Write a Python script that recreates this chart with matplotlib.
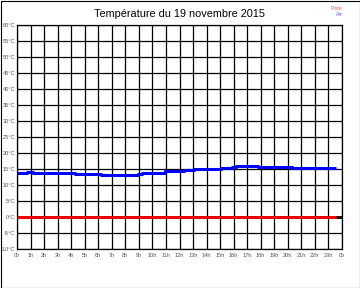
import matplotlib
matplotlib.use("Agg")
import matplotlib.pyplot as plt
from matplotlib.patches import Rectangle

title = "Température du 19 novembre 2015"
hour_labels = [f"{h}h" for h in range(24)] + ["0h"]
y_ticks = list(range(-10, 61, 5))

# Air temperature: step start times (hours) and values (°C)
air_times = [0.0, 0.74, 1.2, 4.3, 5.7, 6.2, 8.9, 9.2, 10.9, 12.3, 13.1,
             15.1, 15.9, 16.2, 17.8, 20.3, 23.55]
air_values = [13.9, 14.2, 13.8, 13.5, 13.3, 13.0, 13.4, 13.9, 14.3, 14.6, 15.0,
              15.4, 15.7, 16.0, 15.7, 15.3, 15.3]

# Track (Piste) temperature
piste_times = [0.0, 23.55]
piste_values = [0.0, 0.0]

plt.rcParams['font.family'] = ['Liberation Sans', 'DejaVu Sans']

fig = plt.figure(figsize=(3.6, 2.88), dpi=100)
ax = fig.add_axes([17/360, 1-249/288, (342-17)/360, (249-25)/288])

ax.set_xlim(0, 24)
ax.set_ylim(-10, 60)
ax.set_xticks(range(25))
ax.set_xticklabels(hour_labels)
ax.set_yticks(y_ticks)
ax.set_yticklabels([f"{v}°C" for v in y_ticks])
ax.tick_params(length=0, labelsize=4.1, colors='#555555')
ax.tick_params(axis='y', pad=1.2)
ax.tick_params(axis='x', pad=3)
ax.grid(True, color='black', linewidth=0.9)
ax.set_axisbelow(True)
for s in ax.spines.values():
    s.set_color('black')
    s.set_linewidth(0.9)

ax.axhline(0, color='black', linewidth=2.0, zorder=1.5)
ax.plot(piste_times, piste_values, color='#ff0000', linewidth=2.0, zorder=3,
        solid_capstyle='butt')
ax.plot(air_times, air_values, color='#0000ff', linewidth=2.2, zorder=4,
        drawstyle='steps-post', solid_capstyle='butt')

fig.text(0.5, 1-14/288, title, ha='center', va='center', fontsize=7.8, color='black')
fig.text(342/360, 1-8/288, "Piste", ha='right', va='center', fontsize=3.8, color='#ff5555')
fig.text(342/360, 1-15/288, "Air", ha='right', va='center', fontsize=3.8, color='#5555ff')

fig.patches.append(Rectangle((0.5/360, 0.5/288), 1-1/360, 1-1/288, transform=fig.transFigure,
                             fill=False, edgecolor='black', linewidth=0.8))

fig.savefig("out.png", dpi=100)
